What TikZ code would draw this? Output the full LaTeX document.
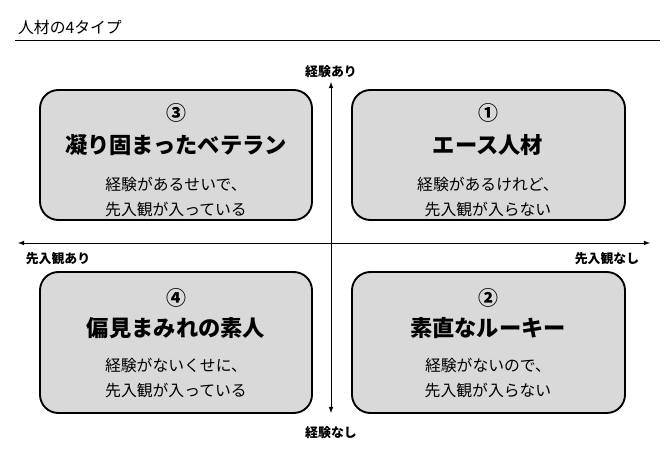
\documentclass[tikz,border=0pt]{standalone}
\usepackage{fontspec}
\setmainfont{Noto Sans CJK JP}
\begin{document}
\begin{tikzpicture}[x=0.03cm,y=-0.03cm,
  quad/.style={draw=black,line width=1.6pt,fill=gray!30,rounded corners=0.55cm},
  num/.style={font=\fontsize{17}{20}\selectfont\bfseries},
  ttl/.style={font=\fontsize{19}{22}\selectfont\bfseries},
  sub/.style={font=\fontsize{13.5}{22}\selectfont,align=center},
  ax/.style={font=\fontsize{11}{12}\selectfont\bfseries}]
\useasboundingbox (0,0) rectangle (670,455);
\node[anchor=west,font=\fontsize{13.5}{14}\selectfont] (title) at (14,27) {人材の4タイプ};
\coordinate (l1) at (15,40); \coordinate (l2) at (660,40);
\draw[line width=0.6pt] (l1) -- (l2);
\coordinate (top) at (331,82); \coordinate (bot) at (331,413);
\coordinate (lft) at (18,243); \coordinate (rgt) at (650,243);
\draw[line width=0.8pt,<->,>=latex] (top) -- (bot);
\draw[line width=0.8pt,<->,>=latex] (lft) -- (rgt);
\node[ax] (ya) at (331,72) {経験あり};
\node[ax] (yn) at (331,433) {経験なし};
\node[ax] (xa) at (58,259) {先入観あり};
\node[ax] (xn) at (607,259) {先入観なし};
\draw[quad] (40,90) rectangle (312,220);
\draw[quad] (352,90) rectangle (625,220);
\draw[quad] (40,272) rectangle (312,413);
\draw[quad] (352,272) rectangle (625,413);
\node[num] (n3) at (176,113) {③};
\node[ttl] (t3) at (176,145) {凝り固まったベテラン};
\node[sub] (s3) at (176,197) {経験があるせいで、\\先入観が入っている};
\node[num] (n1) at (488,113) {①};
\node[ttl] (t1) at (488,145) {エース人材};
\node[sub] (s1) at (488,197) {経験があるけれど、\\先入観が入らない};
\node[num] (n4) at (176,298) {④};
\node[ttl] (t4) at (176,328) {偏見まみれの素人};
\node[sub] (s4) at (176,378) {経験がないくせに、\\先入観が入っている};
\node[num] (n2) at (488,298) {②};
\node[ttl] (t2) at (488,328) {素直なルーキー};
\node[sub] (s2) at (488,378) {経験がないので、\\先入観が入らない};
\end{tikzpicture}
\end{document}
